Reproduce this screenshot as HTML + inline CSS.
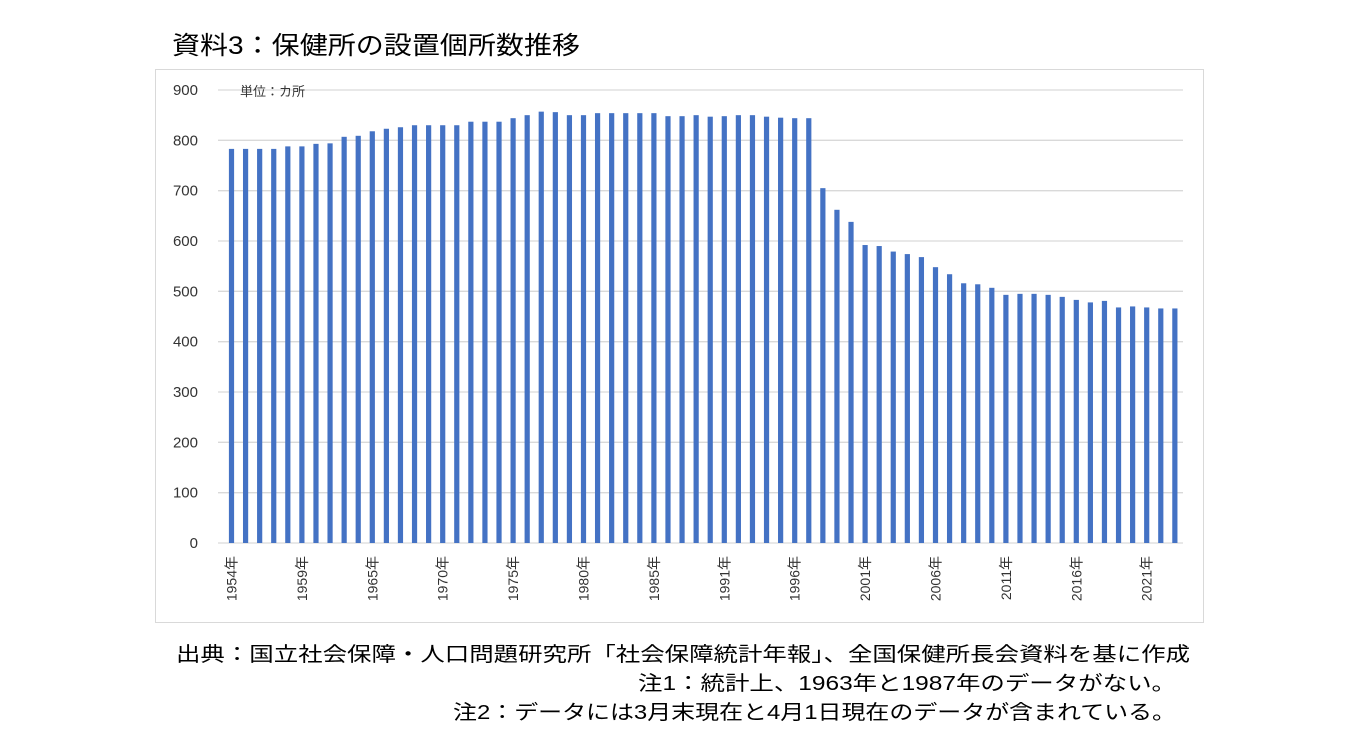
<!DOCTYPE html>
<html><head><meta charset="utf-8"><style>
body{margin:0;background:#fff;width:1357px;height:743px;overflow:hidden}
svg{display:block;font-family:"Liberation Sans","Noto Sans CJK JP",sans-serif}
</style></head><body>
<svg id="chart" width="1357" height="743">
<text x="172" y="54" font-size="25" fill="#000" textLength="408" lengthAdjust="spacingAndGlyphs">資料3：保健所の設置個所数推移</text>
<rect x="155.5" y="69.5" width="1048" height="553" fill="#fff" stroke="#d9d9d9"/>
<g id="grid"></g><g id="bars"></g><g id="xlabels"></g>
<text x="240" y="96" font-size="13" fill="#333">単位：カ所</text>
<text x="1190" y="661" font-size="20" text-anchor="end" textLength="1014" lengthAdjust="spacingAndGlyphs">出典：国立社会保障・人口問題研究所「社会保障統計年報」、全国保健所長会資料を基に作成</text>
<text x="1176" y="690" font-size="20" text-anchor="end" textLength="538" lengthAdjust="spacingAndGlyphs">注1：統計上、1963年と1987年のデータがない。</text>
<text x="1176" y="719" font-size="20" text-anchor="end" textLength="723" lengthAdjust="spacingAndGlyphs">注2：データには3月末現在と4月1日現在のデータが含まれている。</text>
</svg>
<script>
const years=[1954,1955,1956,1957,1958,1959,1960,1961,1962,1964,1965,1966,1967,1968,1969,1970,1971,1972,1973,1974,1975,1976,1977,1978,1979,1980,1981,1982,1983,1984,1985,1986,1988,1989,1990,1991,1992,1993,1994,1995,1996,1997,1998,1999,2000,2001,2002,2003,2004,2005,2006,2007,2008,2009,2010,2011,2012,2013,2014,2015,2016,2017,2018,2019,2020,2021,2022,2023];
const values=[783,783,783,783,788,788,793,794,807,809,818,823,826,830,830,830,830,837,837,837,844,850,857,856,850,850,854,854,854,854,854,848,848,850,847,848,850,850,847,845,844,844,705,662,638,592,590,579,574,568,548,534,516,514,507,493,495,495,493,489,483,478,481,468,470,468,466,466];
const yTicks=[0,100,200,300,400,500,600,700,800,900];
const labelYears=[1954,1959,1965,1970,1975,1980,1985,1991,1996,2001,2006,2011,2016,2021];
const NS="http://www.w3.org/2000/svg";
const x0=231.5,step=14.08,yZero=543,yTop=90,yMax=900;
const xs=i=>x0+i*step;
const ys=v=>yZero-(v/yMax)*(yZero-yTop);
const grid=document.getElementById('grid');
yTicks.forEach(t=>{
 const l=document.createElementNS(NS,'line');
 l.setAttribute('x1',218);l.setAttribute('x2',1183);l.setAttribute('y1',ys(t));l.setAttribute('y2',ys(t));
 l.setAttribute('stroke','#d9d9d9');l.setAttribute('stroke-width','1.3');
 
 
 grid.appendChild(l);
 const tx=document.createElementNS(NS,'text');
 tx.setAttribute('x',198);tx.setAttribute('y',ys(t)+5);tx.setAttribute('text-anchor','end');tx.setAttribute('font-size','15');tx.setAttribute('fill','#333');
 tx.textContent=t;
 
 
 grid.appendChild(tx);
});
const bars=document.getElementById('bars');
values.forEach((v,i)=>{
 const r=document.createElementNS(NS,'rect');
 r.setAttribute('x',xs(i)-2.6);r.setAttribute('width',5.2);
 r.setAttribute('y',ys(v));r.setAttribute('height',yZero-ys(v));
 r.setAttribute('fill','#4472c4');
 
 
 bars.appendChild(r);
});
const xl=document.getElementById('xlabels');
labelYears.forEach(y=>{
 const i=years.indexOf(y);if(i<0)return;
 const t=document.createElementNS(NS,'text');
 const cx=xs(i)+5,cy=556;
 t.setAttribute('transform','translate('+cx+','+cy+') rotate(-90)');
 t.setAttribute('text-anchor','end');t.setAttribute('font-size','14');t.setAttribute('fill','#333');
 t.textContent=y+'年';
 
 
 xl.appendChild(t);
});
</script>
</body></html>
